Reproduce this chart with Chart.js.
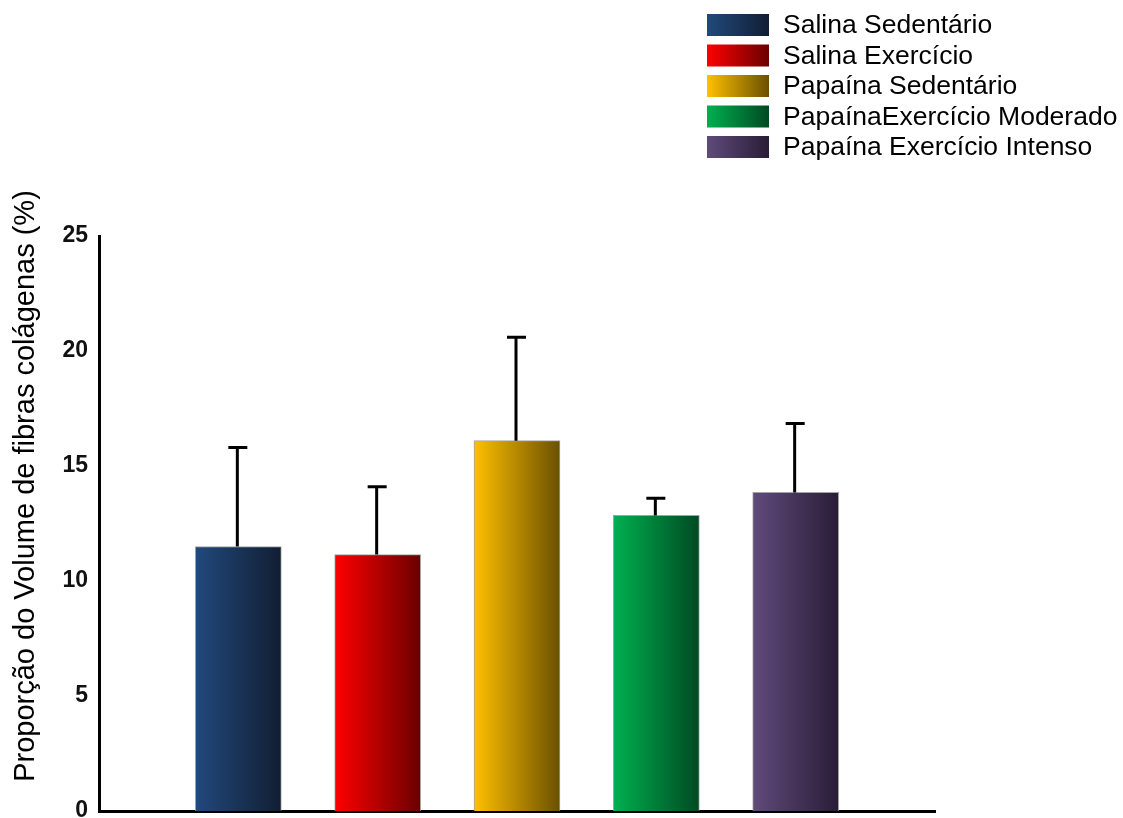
<!DOCTYPE html>
<html>
<head>
<meta charset="utf-8">
<script src="https://cdn.jsdelivr.net/npm/chart.js@4.4.1/dist/chart.umd.min.js"></script>
<style>
  html, body { margin: 0; padding: 0; background: #fff; }
  #wrap { width: 1123px; height: 818px; position: relative; }
</style>
</head>
<body>
<div id="wrap"><canvas id="c" width="1123" height="818"></canvas></div>
<script>
// ---- data ----
const categories = ['Salina Sedentário', 'Salina Exercício', 'Papaína Sedentário', 'PapaínaExercício Moderado', 'Papaína Exercício Intenso'];
const values = [11.5, 11.15, 16.1, 12.85, 13.85];
const errors = [4.3, 2.95, 4.5, 0.75, 3.0];
const yTicks = [0, 5, 10, 15, 20, 25];
const yTitle = 'Proporção do Volume de fibras colágenas (%)';
const gradStart = ['#21497c', '#ff0000', '#ffc000', '#00b050', '#604a7b'];
const gradEnd   = ['#111e33', '#6a0000', '#6a5000', '#004a22', '#291d36'];

const BAR_W = 86;

function barGradient(ctx2d, x0, x1, i) {
  if (!isFinite(x0) || !isFinite(x1)) return gradStart[i];
  const g = ctx2d.createLinearGradient(x0, 0, x1, 0);
  g.addColorStop(0, gradStart[i]);
  g.addColorStop(1, gradEnd[i]);
  return g;
}

const gradientPlugin = {
  id: 'barGradients',
  beforeDatasetsDraw(chart) {
    const meta = chart.getDatasetMeta(0);
    meta.data.forEach((el, i) => {
      const w = el.width || BAR_W;
      el.options.backgroundColor = barGradient(chart.ctx, el.x - w / 2, el.x + w / 2, i);
    });
  }
};

const errorBarPlugin = {
  id: 'errorBars',
  afterDatasetsDraw(chart) {
    const ctx = chart.ctx;
    const xs = chart.scales.x, ys = chart.scales.y;
    ctx.save();
    ctx.strokeStyle = '#000';
    ctx.lineWidth = 3;
    values.forEach((v, i) => {
      const x = xs.getPixelForValue(i + 1) - 1;
      const y0 = ys.getPixelForValue(v);
      const y1 = ys.getPixelForValue(v + errors[i]);
      ctx.beginPath();
      ctx.moveTo(x, y0);
      ctx.lineTo(x, y1);
      ctx.moveTo(x - 9, y1);
      ctx.lineTo(x + 10, y1);
      ctx.stroke();
    });
    ctx.restore();
  }
};

const legendPlugin = {
  id: 'customLegend',
  afterDraw(chart) {
    const ctx = chart.ctx;
    ctx.save();
    ctx.font = '26.5px "Liberation Sans", Arial, sans-serif';
    ctx.textBaseline = 'middle';
    ctx.textAlign = 'left';
    categories.forEach((name, i) => {
      const top = 14 + 30.5 * i;
      const x0 = 707, w = 62, h = 22;
      ctx.fillStyle = barGradient(ctx, x0, x0 + w, i);
      ctx.fillRect(x0, top, w, h);
      ctx.fillStyle = '#000';
      ctx.fillText(name, 783, top + h / 2 + 1);
    });
    ctx.restore();
  }
};

const yTitlePlugin = {
  id: 'yTitle',
  afterDraw(chart) {
    const ctx = chart.ctx;
    ctx.save();
    ctx.font = '29px "Liberation Sans", Arial, sans-serif';
    ctx.fillStyle = '#000';
    ctx.textAlign = 'center';
    ctx.textBaseline = 'middle';
    ctx.translate(26, 486);
    ctx.rotate(-Math.PI / 2);
    ctx.fillText(yTitle, 0, 0);
    ctx.restore();
  }
};

new Chart(document.getElementById('c'), {
  type: 'bar',
  data: {
    datasets: [{
      data: values.map((v, i) => ({ x: i + 1, y: v })),
      barThickness: BAR_W,
      borderWidth: 1,
      borderColor: 'rgba(140,140,140,0.8)',
      borderSkipped: 'bottom',
      backgroundColor: gradStart
    }]
  },
  options: {
    responsive: false,
    animation: false,
    events: [],
    layout: { autoPadding: false, padding: { top: 236, right: 188, left: 0, bottom: 0 } },
    plugins: { legend: { display: false }, tooltip: { enabled: false } },
    scales: {
      x: {
        type: 'linear',
        min: 0,
        max: 6,
        offset: false,
        grid: { display: false, drawTicks: false },
        border: { display: true, color: '#000', width: 3 },
        ticks: { display: false },
        afterFit: (s) => { s.height = 7; s.paddingTop = 0; s.paddingBottom = 0; }
      },
      y: {
        min: 0,
        max: 25,
        afterBuildTicks: (s) => { s.ticks = yTicks.map(v => ({ value: v })); },
        grid: { display: false, drawTicks: false },
        border: { display: true, color: '#000', width: 3 },
        ticks: {
          color: '#111',
          padding: 11,
          font: { family: '"Liberation Sans", Arial, sans-serif', size: 23, weight: 'bold', lineHeight: 0.3 }
        },
        afterFit: (s) => { s.width = 99; s.paddingTop = 0; s.paddingBottom = 0; }
      }
    }
  },
  plugins: [gradientPlugin, errorBarPlugin, legendPlugin, yTitlePlugin]
});
</script>
</body>
</html>
